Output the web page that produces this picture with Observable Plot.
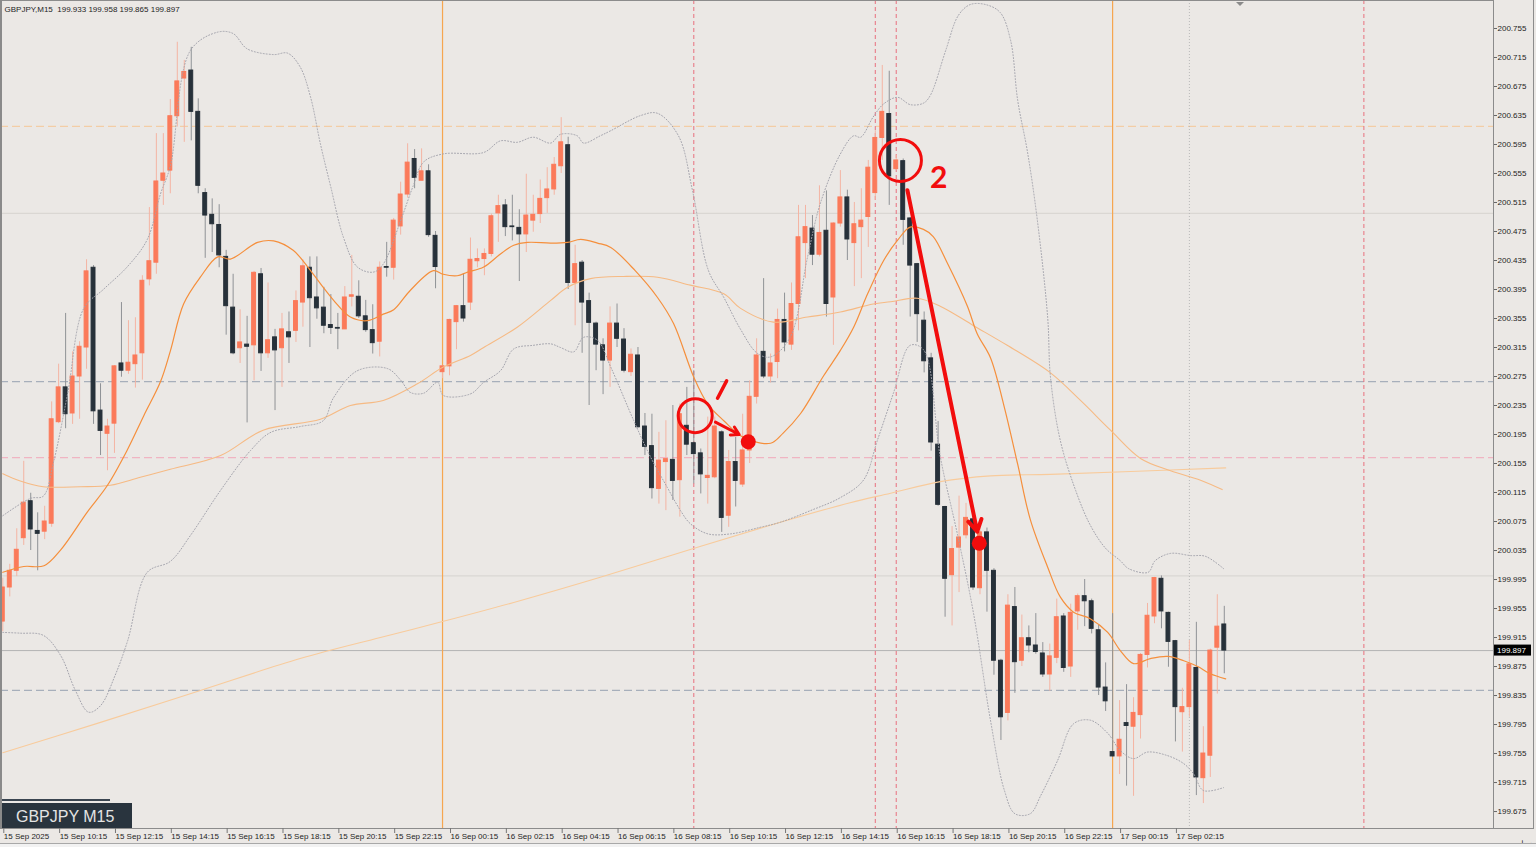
<!DOCTYPE html>
<html><head><meta charset="utf-8">
<script src="https://cdn.jsdelivr.net/npm/d3@7"></script>
<script src="https://cdn.jsdelivr.net/npm/@observablehq/plot@0.6"></script>
<style>
html,body{margin:0;padding:0;background:#EBE8E5;overflow:hidden;}
#chart svg{display:block;}
</style></head><body><div id="chart"></div>
<script>
// ---- Candle data (GBPJPY M15, bar index 0 = 15 Sep 08:15) ----
const open = [199.937,199.984,200.007,200.052,200.103,200.062,200.061,200.072,200.212,200.260,
200.224,200.275,200.315,200.425,200.228,200.196,200.210,200.293,200.283,200.292,
200.307,200.409,200.432,200.545,200.559,200.634,200.686,200.697,200.640,200.528,
200.498,200.484,200.440,200.370,200.314,200.319,200.318,200.416,200.307,200.329,
200.314,200.336,200.338,200.377,200.425,200.384,200.370,200.346,200.342,200.340,
200.385,200.385,200.358,200.339,200.323,200.426,200.425,200.482,200.526,200.575,
200.545,200.558,200.469,200.281,200.289,200.350,200.372,200.377,200.434,200.437,
200.444,200.500,200.511,200.482,200.480,200.471,200.490,200.499,200.521,200.533,
200.565,200.594,200.404,200.432,200.379,200.348,200.318,200.297,200.348,200.326,
200.281,200.304,200.206,200.179,200.120,200.157,200.160,200.132,200.207,200.183,
200.169,200.135,200.136,200.198,200.083,200.157,200.126,200.173,200.247,200.309,
200.275,200.295,200.353,200.319,200.375,200.459,200.479,200.443,200.476,200.384,
200.486,200.522,200.459,200.481,200.495,200.528,200.604,200.637,200.561,200.572,
200.493,200.430,200.352,200.300,200.181,200.095,200.001,200.039,200.056,200.078,
199.983,200.060,200.007,199.883,199.811,199.957,199.883,199.914,199.904,199.893,
199.864,199.887,199.944,199.875,199.951,199.972,199.965,199.925,199.846,199.757,
199.751,199.797,199.792,199.808,199.891,199.944,199.996,199.949,199.910,199.812,
199.819,199.873,199.721,199.752,199.901,199.933];
const high = [199.997,200.016,200.065,200.158,200.114,200.087,200.096,200.240,200.292,200.362,
200.309,200.323,200.436,200.428,200.265,200.216,200.290,200.377,200.352,200.356,
200.414,200.508,200.610,200.610,200.657,200.736,200.711,200.729,200.658,200.534,
200.520,200.512,200.449,200.416,200.367,200.358,200.420,200.424,200.404,200.340,
200.362,200.364,200.393,200.436,200.440,200.440,200.398,200.388,200.362,200.399,
200.442,200.407,200.380,200.374,200.433,200.460,200.493,200.543,200.596,200.588,
200.589,200.567,200.475,200.290,200.354,200.373,200.417,200.466,200.451,200.451,
200.499,200.525,200.519,200.525,200.505,200.554,200.525,200.546,200.563,200.577,
200.632,200.605,200.456,200.435,200.390,200.350,200.327,200.371,200.375,200.341,
200.313,200.315,200.224,200.223,200.198,200.214,200.235,200.237,200.260,200.283,
200.175,200.219,200.219,200.200,200.173,200.191,200.223,200.269,200.327,200.410,
200.306,200.368,200.390,200.404,200.511,200.511,200.497,200.538,200.531,200.487,
200.559,200.532,200.515,200.534,200.573,200.614,200.704,200.696,200.580,200.575,
200.494,200.431,200.364,200.307,200.213,200.096,200.068,200.110,200.100,200.083,
200.068,200.066,200.010,199.885,199.974,199.984,199.946,199.931,199.948,199.908,
199.906,199.968,199.948,199.961,199.975,199.995,199.968,199.932,199.880,199.948,
199.828,199.850,199.832,199.893,199.962,199.998,200.000,199.950,199.911,199.845,
199.911,199.936,199.792,199.899,199.974,199.958];
const low = [199.923,199.971,199.999,200.042,200.035,200.007,200.050,200.067,200.210,200.203,
200.209,200.216,200.285,200.209,200.166,200.145,200.169,200.274,200.278,200.259,
200.270,200.400,200.416,200.511,200.527,200.619,200.598,200.600,200.527,200.438,
200.446,200.425,200.332,200.305,200.293,200.211,200.269,200.282,200.300,200.228,
200.260,200.293,200.322,200.343,200.315,200.354,200.334,200.333,200.312,200.340,
200.371,200.355,200.336,200.306,200.302,200.412,200.408,200.470,200.521,200.534,
200.545,200.467,200.396,200.272,200.276,200.312,200.350,200.366,200.425,200.414,
200.440,200.460,200.468,200.462,200.406,200.446,200.474,200.486,200.500,200.525,
200.555,200.395,200.345,200.307,200.235,200.283,200.250,200.260,200.315,200.280,
200.275,200.204,200.166,200.106,200.099,200.090,200.104,200.081,200.166,200.127,
200.113,200.099,200.134,200.060,200.067,200.095,200.122,200.155,200.237,200.272,
200.266,200.272,200.309,200.311,200.338,200.410,200.428,200.440,200.357,200.318,
200.481,200.435,200.399,200.410,200.453,200.518,200.573,200.511,200.559,200.456,
200.357,200.322,200.280,200.172,200.096,199.943,199.931,199.977,200.051,199.980,
199.974,199.950,199.863,199.773,199.800,199.838,199.875,199.894,199.892,199.860,
199.841,199.879,199.867,199.860,199.925,199.930,199.920,199.835,199.813,199.750,
199.726,199.710,199.696,199.775,199.873,199.934,199.927,199.874,199.771,199.757,
199.805,199.697,199.686,199.722,199.837,199.865];
const close = [199.984,200.007,200.036,200.101,200.064,200.058,200.075,200.216,200.260,200.223,
200.275,200.316,200.420,200.227,200.200,200.206,200.289,200.283,200.294,200.304,
200.407,200.434,200.544,200.555,200.634,200.682,200.695,200.640,200.538,200.497,
200.485,200.442,200.372,200.307,200.322,200.316,200.418,200.307,200.325,200.311,
200.340,200.329,200.379,200.427,200.383,200.369,200.345,200.342,200.341,200.384,
200.387,200.358,200.339,200.321,200.425,200.425,200.490,200.526,200.570,200.549,
200.558,200.470,200.426,200.289,200.353,200.372,200.355,200.436,200.437,200.444,
200.496,200.510,200.481,200.481,200.471,200.497,200.498,200.520,200.533,200.567,
200.598,200.404,200.430,200.377,200.349,200.319,200.297,200.348,200.327,200.283,
200.305,200.205,200.178,200.121,200.159,200.161,200.131,200.223,200.181,200.168,
200.140,200.138,200.206,200.080,200.157,200.131,200.173,200.247,200.304,200.275,
200.293,200.353,200.322,200.375,200.467,200.481,200.443,200.473,200.375,200.486,
200.522,200.464,200.485,200.490,200.563,200.604,200.640,200.551,200.573,200.491,
200.428,200.361,200.296,200.184,200.098,199.996,200.037,200.053,200.080,199.984,
200.060,200.007,199.883,199.805,199.959,199.881,199.914,199.904,199.895,199.864,
199.889,199.943,199.873,199.949,199.972,199.965,199.927,199.846,199.827,199.751,
199.774,199.793,199.811,199.891,199.945,199.997,199.951,199.909,199.819,199.819,
199.878,199.722,199.755,199.897,199.930,199.897];

// ---- Indicator lines as [bar index, price] ----
const fastMA = [[0,200.005],[3,200.013],[5.9,200.014],[8.3,200.036],[12.1,200.088],[15,200.125],[17.8,200.173],[20.2,200.221],[22.6,200.268],[24,200.310],[25.9,200.375],[28.3,200.412],[30.8,200.440],[32.6,200.437],[36.5,200.460],[38.8,200.462],[41.6,200.449],[43.7,200.426],[45.5,200.403],[47.4,200.380],[49.8,200.357],[52.2,200.352],[54.5,200.361],[56,200.367],[58.4,200.394],[61.7,200.421],[63.1,200.416],[65.1,200.414],[66.6,200.419],[68.9,200.426],[71.3,200.444],[73.2,200.456],[75.2,200.460],[78.5,200.459],[80.9,200.460],[82.8,200.464],[85.2,200.459],[87.1,200.453],[90.6,200.421],[93.8,200.384],[96.1,200.348],[99,200.274],[101,200.237],[103.3,200.214],[106.1,200.191],[110,200.183],[111.8,200.197],[114.3,200.224],[117.6,200.276],[120,200.311],[121.9,200.343],[123.9,200.389],[126.2,200.435],[128.2,200.463],[130,200.481],[131.9,200.478],[133.3,200.468],[135.3,200.432],[138.2,200.372],[139.6,200.334],[141.5,200.301],[143.4,200.236],[145.4,200.154],[147.2,200.078],[149.7,200.012],[151.5,199.971],[153.4,199.950],[155.8,199.941],[158.3,199.922],[160.1,199.897],[162,199.879],[164.4,199.886],[166.9,199.889],[169.2,199.883],[171.2,199.875],[173,199.865],[175.2,199.858]];
const midMA = [[0,200.141],[2.5,200.131],[5.8,200.123],[11.1,200.123],[15.4,200.125],[19.7,200.136],[24,200.147],[31.2,200.166],[37.3,200.201],[45.5,200.216],[49.8,200.235],[54.5,200.242],[59.4,200.265],[63.1,200.288],[67,200.304],[68.9,200.315],[73.7,200.343],[78.5,200.380],[80.9,200.398],[84.2,200.410],[88.9,200.413],[93.8,200.412],[98.5,200.401],[103.3,200.389],[105.7,200.369],[110.4,200.350],[115.3,200.357],[120,200.364],[124.7,200.375],[127.2,200.378],[131,200.383],[134.3,200.372],[139.1,200.345],[143.9,200.318],[150.1,200.280],[154.4,200.242],[158.7,200.201],[163,200.162],[167.3,200.145],[171.6,200.132],[174.7,200.119]];
const slowMA = [[0,199.756],[14,199.798],[28.3,199.842],[42.6,199.886],[54.1,199.915],[63,199.937],[74.2,199.966],[85.6,199.998],[100,200.041],[111.4,200.074],[121.4,200.101],[127.2,200.114],[134.3,200.130],[141.5,200.138],[150.1,200.140],[161.6,200.144],[175.2,200.149]];
const bandUpper = [[0,200.083],[4,200.107],[5.8,200.110],[7.3,200.158],[9.3,200.252],[11.6,200.369],[14.4,200.395],[17.9,200.427],[20.7,200.464],[22.6,200.527],[24,200.565],[26.9,200.725],[30.8,200.750],[33,200.748],[35,200.727],[38.8,200.719],[40.8,200.721],[42.6,200.702],[44.1,200.660],[45.5,200.596],[47,200.536],[48.8,200.467],[50.8,200.426],[53.1,200.419],[54.5,200.430],[57,200.490],[58.8,200.538],[60.3,200.571],[63.1,200.582],[68.9,200.584],[71.3,200.600],[73.7,200.598],[76,200.605],[78.5,200.597],[79.9,200.609],[82.3,200.607],[83.2,200.597],[85.6,200.607],[87.1,200.614],[91.4,200.635],[93.8,200.638],[96.8,200.607],[98.8,200.532],[101.1,200.421],[103.3,200.384],[105.7,200.340],[108.1,200.307],[110,200.302],[112.8,200.329],[115.3,200.440],[117.1,200.513],[120,200.582],[121.9,200.607],[122.9,200.605],[124.7,200.633],[126.2,200.651],[128.2,200.660],[130,200.650],[131.9,200.652],[132.9,200.663],[135.1,200.725],[136.9,200.773],[138.6,200.788],[140.8,200.788],[142.9,200.777],[144.4,200.738],[145.4,200.656],[146.8,200.585],[148.2,200.492],[149.7,200.356],[150.1,200.274],[151.5,200.187],[153.7,200.118],[155.8,200.070],[158,200.038],[160.1,200.021],[161.3,200.010],[164.1,200.005],[165.1,200.021],[167.3,200.031],[170.2,200.028],[172.3,200.027],[174.9,200.010]];
const bandLower = [[0,199.922],[2.5,199.921],[5.8,199.918],[8.3,199.890],[10.4,199.842],[12.3,199.812],[14,199.821],[16.1,199.863],[17.9,199.911],[20.7,200.005],[24,200.020],[26.9,200.056],[31.2,200.118],[35.5,200.173],[38.4,200.198],[42.6,200.206],[45.9,200.214],[47.4,200.246],[50.8,200.283],[55.1,200.286],[57,200.270],[58.4,200.253],[60.3,200.252],[62.3,200.267],[63.1,200.249],[67,200.251],[68.9,200.267],[71.3,200.283],[73.2,200.313],[76,200.318],[78.5,200.320],[79.9,200.315],[81.8,200.309],[83.2,200.329],[85.2,200.325],[87.1,200.288],[90.4,200.214],[92.8,200.164],[95.2,200.122],[97.1,200.090],[98.5,200.072],[101,200.058],[104.3,200.058],[108.5,200.067],[111.4,200.074],[115.7,200.090],[120,200.108],[123.3,200.132],[125.3,200.187],[127.6,200.252],[130,200.318],[131.9,200.312],[134.3,200.165],[136.8,200.056],[139.1,199.947],[141.5,199.801],[143.5,199.704],[145,199.672],[147.2,199.672],[148.7,199.697],[151.1,199.745],[153.4,199.796],[155.8,199.801],[158.3,199.783],[160.1,199.759],[162,199.748],[164,199.757],[166.9,199.752],[169.2,199.741],[170.6,199.727],[172,199.704],[174.9,199.708]];

// ---- Level lines ----
const levelPrices = [200.620, 200.500, 200.268, 200.163, 200.000, 199.897, 199.842];
const levelKinds  = ["orange", "grid", "blue", "pink", "grid", "price", "blue"];
const daySepBars  = [63, 159];
const markerBars  = [99, 125, 128, 195];
const nowBar      = [170];

// ---- Axes ----
const yTicks = [200.755,200.715,200.675,200.635,200.595,200.555,200.515,200.475,200.435,200.395,200.355,200.315,200.275,200.235,200.195,200.155,200.115,200.075,200.035,199.995,199.955,199.915,199.875,199.835,199.795,199.755,199.715,199.675];
const xTickBars = [0,8,16,24,32,40,48,56,64,72,80,88,96,104,112,120,128,136,144,152,160,168];
const xTickLabels = ["15 Sep 2025","15 Sep 10:15","15 Sep 12:15","15 Sep 14:15","15 Sep 16:15","15 Sep 18:15","15 Sep 20:15","15 Sep 22:15","16 Sep 00:15","16 Sep 02:15","16 Sep 04:15","16 Sep 06:15","16 Sep 08:15","16 Sep 10:15","16 Sep 12:15","16 Sep 14:15","16 Sep 16:15","16 Sep 18:15","16 Sep 20:15","16 Sep 22:15","17 Sep 00:15","17 Sep 02:15"];
const headerText = "GBPJPY,M15  199.933 199.958 199.865 199.897";
const symbolText = "GBPJPY M15";
const lastPrice = 199.897;

// ---- Hand-drawn annotations [bar index, price] ----
const ring1 = [[99.2,200.221]];
const ring2 = [[128.6,200.573]];
const spots = [[106.8,200.185],[139.9,200.045]];
const arrow1 = [[102.1,200.212,105.5,200.195]];
const arrow2 = [[129.6,200.532,139.6,200.061]];
const strokes1 = [[103.7,200.269,102.4,200.245]];
const labels2 = [[134.1,200.548,"2"]];

const bars = close.map((c, i) => ({i, o: open[i], h: high[i], l: low[i], c, up: c >= open[i]}));
const levelStyle = {
  orange: {stroke: "#F3CDA6", dash: "8,4", w: 1.3},
  grid:   {stroke: "#DAD7D3", dash: null, w: 1.3},
  blue:   {stroke: "#A7AFBB", dash: "8,4", w: 1.2},
  pink:   {stroke: "#F0B4C2", dash: "8,4", w: 1.3},
  price:  {stroke: "#B4B4B4", dash: null, w: 1}
};
const levels = levelPrices.map((p, j) => ({p, ...levelStyle[levelKinds[j]]}));
const tickLab = new Map(xTickBars.map((b, j) => [b, xTickLabels[j]]));
const RED = "#F20D0D";
const W = 1536, H = 847;
const FONT = "'Liberation Sans', Arial, sans-serif";

const chart = Plot.plot({
  width: W, height: H,
  marginLeft: 0, marginRight: 43, marginTop: 0, marginBottom: 19,
  style: {background: "#EBE8E5", fontFamily: FONT, fontSize: "8px", color: "#1e1e1e"},
  x: {type: "linear", domain: [-0.3295, 213.57], axis: null},
  y: {type: "linear", domain: [199.6516, 200.7936], axis: null},
  marks: [
    ...levels.map(L => Plot.ruleY([L.p], {stroke: L.stroke, strokeWidth: L.w, strokeDasharray: L.dash})),
    Plot.ruleX(daySepBars, {x: d => d, stroke: "#F6A650", strokeWidth: 1.2}),
    Plot.ruleX(markerBars, {x: d => d, stroke: "#E8707E", strokeWidth: 1, strokeDasharray: "4,3"}),
    Plot.ruleX(nowBar, {x: d => d, stroke: "#B8B8B8", strokeWidth: 1, strokeDasharray: "1,2"}),
    // candles
    Plot.ruleX(bars, {x: "i", y1: "l", y2: "h", stroke: d => d.up ? "#F4B4A3" : "#8F9296", strokeWidth: 1}),
    Plot.rect(bars, {x1: d => d.i - 0.28, x2: d => d.i + 0.28, y1: "o", y2: "c",
      fill: d => d.up ? "#FB7A5A" : "#27313A", stroke: d => d.up ? "#FB7A5A" : "#27313A", strokeWidth: 1}),
    // indicators
    Plot.line(slowMA, {x: d => d[0], y: d => d[1], stroke: "#F8CB9C", strokeWidth: 1.1, curve: "catmull-rom", clip: true}),
    Plot.line(midMA, {x: d => d[0], y: d => d[1], stroke: "#F6BA84", strokeWidth: 1.1, curve: "catmull-rom", clip: true}),
    Plot.line(bandUpper, {x: d => d[0], y: d => d[1], stroke: "#A3A3AC", strokeWidth: 1, strokeDasharray: "1,2", curve: "catmull-rom", clip: true}),
    Plot.line(bandLower, {x: d => d[0], y: d => d[1], stroke: "#A3A3AC", strokeWidth: 1, strokeDasharray: "1,2", curve: "catmull-rom", clip: true}),
    Plot.line(fastMA, {x: d => d[0], y: d => d[1], stroke: "#F58F3C", strokeWidth: 1.2, curve: "catmull-rom", clip: true}),
    // annotations
    Plot.dot(ring1, {x: d => d[0], y: d => d[1], r: 17, stroke: RED, strokeWidth: 3, fill: "none"}),
    Plot.dot(ring2, {x: d => d[0], y: d => d[1], r: 21, stroke: RED, strokeWidth: 3, fill: "none"}),
    Plot.dot(spots, {x: d => d[0], y: d => d[1], r: 7.5, fill: RED, stroke: "none"}),
    Plot.arrow(arrow1, {x1: d => d[0], y1: d => d[1], x2: d => d[2], y2: d => d[3], strokeWidth: 3, headLength: 5, stroke: RED, bend: 0}),
    Plot.arrow(arrow2, {x1: d => d[0], y1: d => d[1], x2: d => d[2], y2: d => d[3], strokeWidth: 4, headLength: 5, stroke: RED, bend: 0}),
    Plot.link(strokes1, {x1: d => d[0], y1: d => d[1], x2: d => d[2], y2: d => d[3], stroke: RED, strokeWidth: 3.5, strokeLinecap: "round"}),
    Plot.text(labels2, {x: d => d[0], y: d => d[1], text: d => d[2], fill: RED, fontSize: 30, fontWeight: "bold", fontFamily: "Lato, 'Liberation Sans', sans-serif"}),
    // frame and axes
    Plot.frame({stroke: "#8C8C8C", strokeWidth: 1}),
    Plot.axisY(yTicks, {anchor: "right", tickSize: 3, tickPadding: 1, tickFormat: d => d.toFixed(3), stroke: "#666", fill: "#1e1e1e", fontSize: 8}),
    Plot.axisX(xTickBars, {anchor: "bottom", tickSize: 5, tickPadding: 0, tickFormat: d => tickLab.get(d), textAnchor: "start", dx: 1, stroke: "#777", fill: "#1e1e1e", fontSize: 8}),
    Plot.text([headerText], {frameAnchor: "top-left", dx: 4, dy: 6, text: d => d, textAnchor: "start", lineAnchor: "top", fill: "#1e1e1e", fontSize: 8})
  ]
});

document.getElementById("chart").appendChild(chart);
const svg = d3.select(chart);
const yS = chart.scale("y");
// left thick border
svg.append("rect").attr("x", 0).attr("y", 0).attr("width", 2).attr("height", 828).attr("fill", "#8A8A8A");
// window edge on the right
svg.append("line").attr("x1", 1533.5).attr("x2", 1533.5).attr("y1", 0).attr("y2", 828).attr("stroke", "#8C8C8C");
svg.append("line").attr("x1", 1493).attr("x2", 1534).attr("y1", 828.5).attr("y2", 828.5).attr("stroke", "#8C8C8C");
// bottom tab strip
svg.append("rect").attr("x", 0).attr("y", 843).attr("width", W).attr("height", 4).attr("fill", "#F2F2F2");
svg.append("line").attr("x1", 0).attr("x2", W).attr("y1", 843.5).attr("y2", 843.5).attr("stroke", "#A8A8A8");
// symbol box
svg.append("rect").attr("x", 2).attr("y", 799).attr("width", 108).attr("height", 2).attr("fill", "#3A4550");
svg.append("rect").attr("x", 2).attr("y", 803).attr("width", 130).attr("height", 25).attr("fill", "#29343E");
svg.append("text").attr("x", 16).attr("y", 822).attr("fill", "#E4E4E4").attr("font-size", 16)
  .attr("text-anchor", "start").attr("font-family", FONT).text(symbolText);
// last price tag
const yp = yS.apply(lastPrice);
svg.append("rect").attr("x", 1494).attr("y", yp - 5.5).attr("width", 37).attr("height", 11).attr("fill", "#000");
svg.append("text").attr("x", 1497).attr("y", yp + 3).attr("fill", "#FFF").attr("font-size", 8)
  .attr("text-anchor", "start").attr("font-family", FONT).text(lastPrice.toFixed(3));
// shift marker triangle
svg.append("path").attr("d", "M1236,2 L1244,2 L1240,6 Z").attr("fill", "#8A8A8A");
</script></body></html>
